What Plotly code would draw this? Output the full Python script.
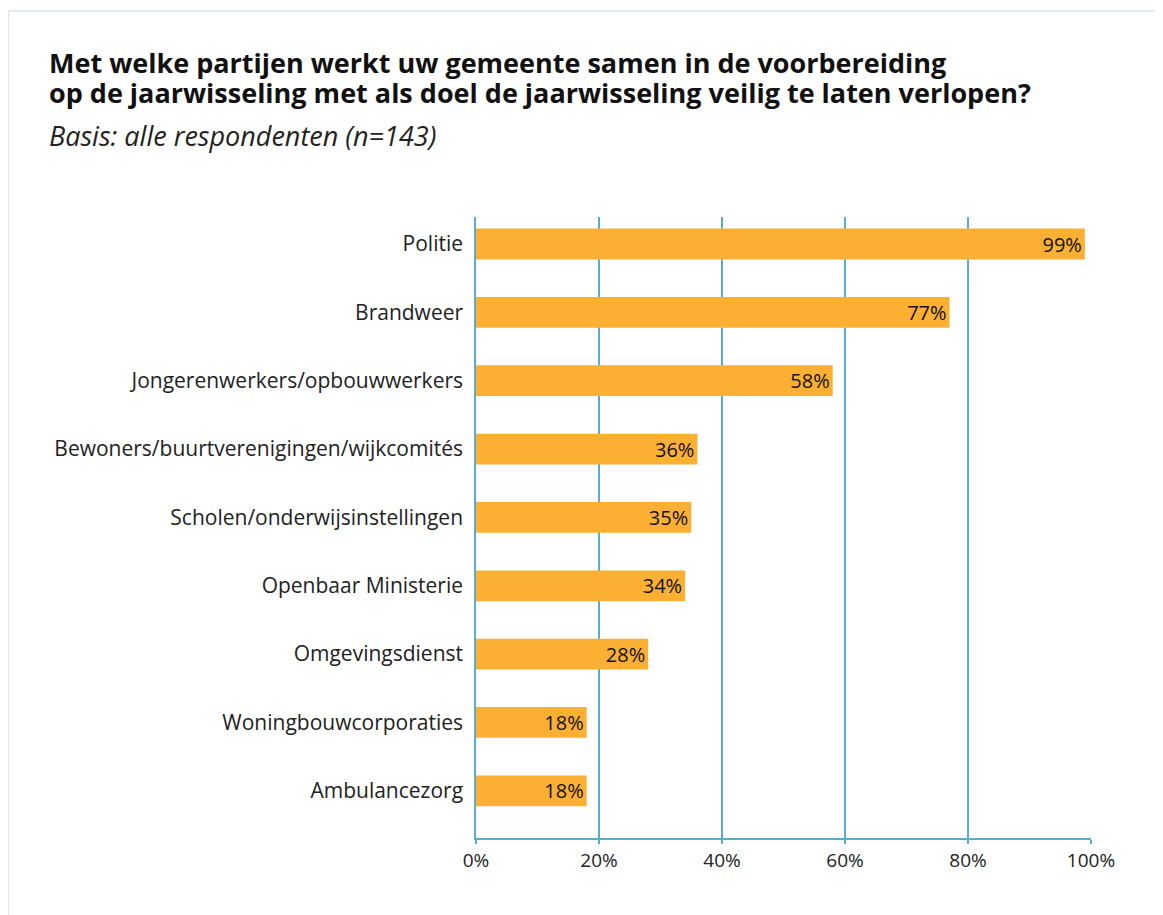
import plotly.graph_objects as go

categories = [
    "Politie",
    "Brandweer",
    "Jongerenwerkers/opbouwwerkers",
    "Bewoners/buurtverenigingen/wijkcomités",
    "Scholen/onderwijsinstellingen",
    "Openbaar Ministerie",
    "Omgevingsdienst",
    "Woningbouwcorporaties",
    "Ambulancezorg",
]
values = [99, 77, 58, 36, 35, 34, 28, 18, 18]
tick_vals = [0, 20, 40, 60, 80, 100]
tick_text = ["0%", "20%", "40%", "60%", "80%", "100%"]

title_line1 = "Met welke partijen werkt uw gemeente samen in de voorbereiding"
title_line2 = "op de jaarwisseling met als doel de jaarwisseling veilig te laten verlopen?"
subtitle = "Basis: alle respondenten (n=143)"

W, H = 1163, 915
OFF = 8  # page body offset
L, R, T, B = 476 - OFF, 1163 - 1091 + OFF, 217 - OFF, 915 - (838 - OFF)
PW, PH = W - L - R, H - T - B

def px(x):
    return (x - OFF - L) / PW

def py(y):
    return (H - B - (y - OFF)) / PH

FONT = "'Open Sans', sans-serif"
BAR = "#FBB034"
GRID = "#5AACCB"

fig = go.Figure(
    go.Bar(
        x=values,
        y=categories,
        orientation="h",
        marker=dict(color=BAR, line=dict(width=0)),
        width=0.45,
        text=[f"{v}%" for v in values],
        textposition="inside",
        insidetextanchor="end",
        textfont=dict(family=FONT, size=20, color="#111111"),
        constraintext="none",
        cliponaxis=False,
    )
)

fig.update_layout(
    width=W,
    height=H,
    margin=dict(l=L, r=R, t=T, b=B, pad=0),
    paper_bgcolor="white",
    plot_bgcolor="white",
    showlegend=False,
    font=dict(family=FONT, color="#222222"),
    xaxis=dict(
        range=[0, 100],
        tickvals=tick_vals,
        ticktext=tick_text,
        showgrid=True,
        gridcolor=GRID,
        gridwidth=1.5,
        zeroline=False,
        showline=True,
        linecolor=GRID,
        linewidth=2,
        ticks="outside",
        ticklen=4,
        tickcolor=GRID,
        tickwidth=1.5,
        tickfont=dict(family=FONT, size=19, color="#222222"),
        fixedrange=True,
    ),
    yaxis=dict(
        type="category",
        categoryorder="array",
        categoryarray=categories,
        range=[8.69, -0.395],
        showgrid=False,
        zeroline=False,
        showline=True,
        linecolor=GRID,
        linewidth=1.5,
        ticks="",
        ticklabelstandoff=7,
        tickfont=dict(family=FONT, size=21, color="#222222"),
        fixedrange=True,
    ),
    annotations=[
        dict(x=px(47), y=py(62), xref="paper", yref="paper", text=f"<b>{title_line1}</b>",
             showarrow=False, xanchor="left", yanchor="middle",
             font=dict(family=FONT, size=27, color="#111111")),
        dict(x=px(47), y=py(92), xref="paper", yref="paper", text=f"<b>{title_line2}</b>",
             showarrow=False, xanchor="left", yanchor="middle",
             font=dict(family=FONT, size=27, color="#111111")),
        dict(x=px(47), y=py(135), xref="paper", yref="paper", text=f"<i>{subtitle}</i>",
             showarrow=False, xanchor="left", yanchor="middle",
             font=dict(family=FONT, size=27, color="#222222")),
    ],
    shapes=[
        dict(type="line", xref="paper", yref="paper", x0=px(8), x1=px(1175), y0=py(11), y1=py(11),
             line=dict(color="#DCE6EC", width=1.5), layer="below"),
        dict(type="line", xref="paper", yref="paper", x0=px(8), x1=px(8), y0=py(11), y1=py(930),
             line=dict(color="#DCE6EC", width=2), layer="below"),
    ],
)

fig.write_html("out.html")
